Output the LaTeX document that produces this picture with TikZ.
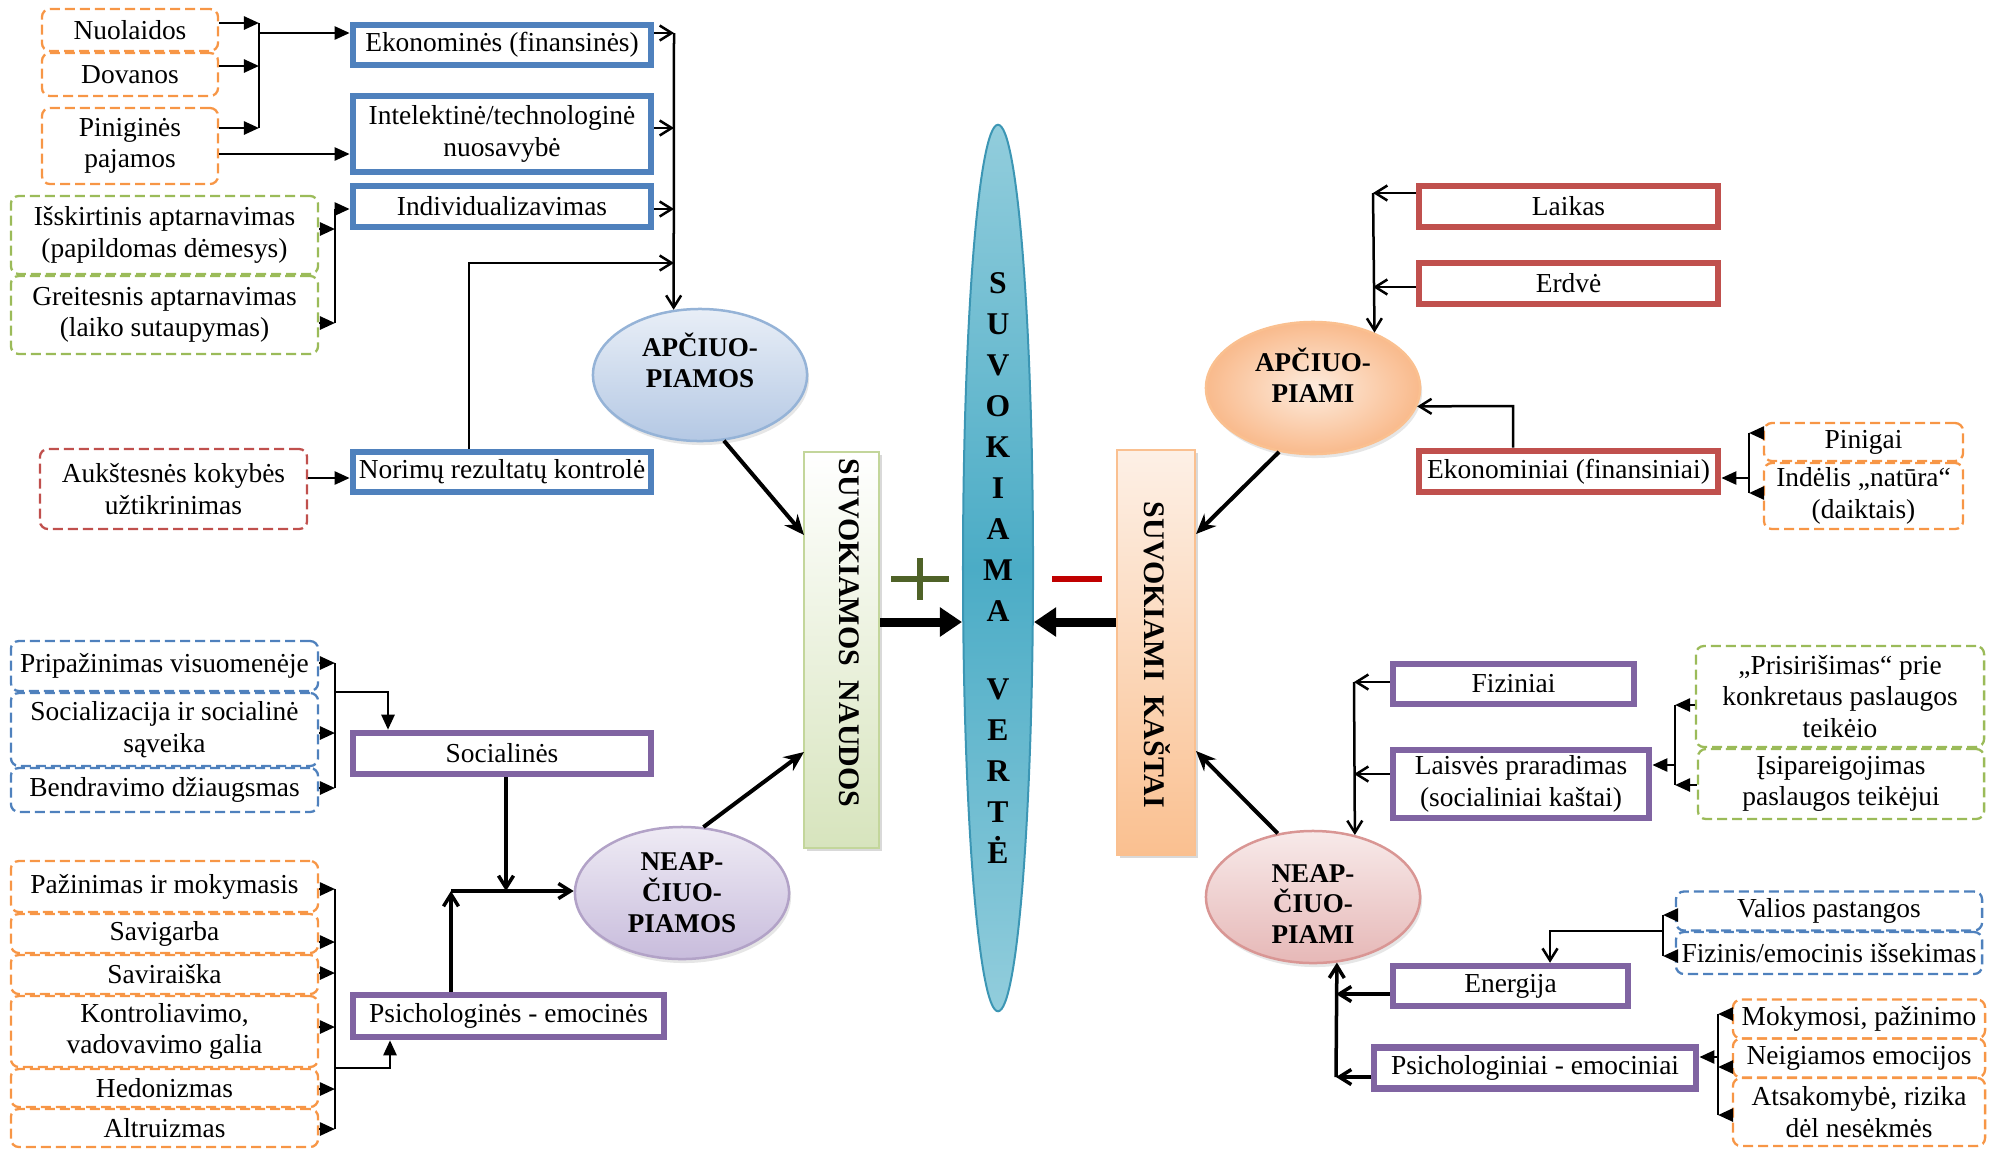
\documentclass[tikz,border=0pt]{standalone}
\usepackage{fontspec}
\setmainfont{Liberation Serif}
\usepackage{tikz}
\usetikzlibrary{arrows.meta,shapes.geometric,shadows}

\begin{document}
\begin{tikzpicture}[x=0.01cm, y=-0.01cm,
    conn/.style={line width=0.025cm},
    tria/.style={conn, -{Triangle[length=0.15cm,width=0.13cm]}},
    barb/.style={conn, -{Straight Barb[length=0.12cm,width=0.15cm]}},
    diag/.style={line width=0.04cm, -{Stealth[length=0.2cm,width=0.17cm]}},
    bigarr/.style={line width=0.09cm, -{Triangle[length=0.22cm,width=0.28cm]}},
    txt/.style={font=\fontsize{7.8}{9}\selectfont, align=center, inner sep=0pt},
    thickbox/.style={txt, draw=#1, line width=0.065cm, fill=white},
    dbox/.style={txt, draw=#1, line width=0.023cm, dash pattern=on 0.1cm off 0.05cm, rounded corners=0.08cm},
    oval/.style={ellipse, minimum width=2.14cm, minimum height=1.32cm, inner sep=0pt,
        line width=0.025cm,
        drop shadow={opacity=0.2, shadow xshift=0.02cm, shadow yshift=-0.04cm}},
    ovaltext/.style={align=center, inner sep=0pt, font=\fontsize{7.7}{8.8}\selectfont\bfseries},
    vbox/.style={inner sep=0pt, line width=0.02cm,
        drop shadow={opacity=0.3, shadow xshift=0.03cm, shadow yshift=-0.03cm}},
    vtext/.style={rotate=-90, font=\fontsize{8.5}{10}\selectfont\bfseries, inner sep=0pt}
]
    % Spalvos
    \definecolor{blueB}{RGB}{79,129,189}
    \definecolor{redB}{RGB}{192,80,77}
    \definecolor{purpB}{RGB}{128,100,162}
    \definecolor{orngD}{RGB}{247,150,70}
    \definecolor{grnD}{RGB}{155,187,89}
    \definecolor{plusG}{RGB}{79,98,40}
    \definecolor{minusR}{RGB}{192,0,0}
    \definecolor{spL}{RGB}{146,205,220}
    \definecolor{spD}{RGB}{75,172,198}
    \definecolor{spB}{RGB}{60,150,180}
    \definecolor{nauF}{RGB}{215,228,189}
    \definecolor{nauB}{RGB}{195,214,155}
    \definecolor{kasF}{RGB}{250,192,144}
    \definecolor{kasT}{RGB}{253,240,230}
    \definecolor{apF}{RGB}{180,200,228}
    \definecolor{apB}{RGB}{149,179,215}
    \definecolor{neF}{RGB}{200,188,220}
    \definecolor{neB}{RGB}{178,162,199}
    \definecolor{akF}{RGB}{249,186,140}
    \definecolor{akI}{RGB}{253,236,222}
    \definecolor{nkF}{RGB}{230,184,183}
    \definecolor{nkB}{RGB}{217,150,148}

    \useasboundingbox (0,0) rectangle (1995,1151);

    % Apčiuopiamos naudos
    \node[dbox=orngD, minimum width=1.76cm, minimum height=0.42cm] (nuol) at (130,30) {Nuolaidos};
    \node[dbox=orngD, minimum width=1.76cm, minimum height=0.43cm] (dovan) at (130,74.5) {Dovanos};
    \node[dbox=orngD, minimum width=1.76cm, minimum height=0.76cm] (pinig) at (130,146) {Piniginės\\pajamos};
    \node[dbox=grnD, minimum width=3.07cm, minimum height=0.78cm] (isskir) at (164.5,235) {Išskirtinis aptarnavimas\\(papildomas dėmesys)};
    \node[dbox=grnD, minimum width=3.07cm, minimum height=0.78cm] (greit) at (164.5,315) {Greitesnis aptarnavimas\\(laiko sutaupymas)};
    \node[dbox=redB, minimum width=2.67cm, minimum height=0.80cm] (aukst) at (173.5,489) {Aukštesnės kokybės\\užtikrinimas};

    \node[thickbox=blueB, minimum width=2.98cm, minimum height=0.40cm] (ekon) at (502,45) {Ekonominės (finansinės)};
    \node[thickbox=blueB, minimum width=2.98cm, minimum height=0.76cm] (intel) at (502,134) {Intelektinė/technologinė\\nuosavybė};
    \node[thickbox=blueB, minimum width=2.98cm, minimum height=0.41cm] (indiv) at (502,206.5) {Individualizavimas};
    \node[thickbox=blueB, minimum width=2.98cm, minimum height=0.40cm] (norim) at (502,472) {Norimų rezultatų kontrolė};

    \node[oval, draw=apB, top color=white!70!apF, bottom color=apF] (apcP) at (700,375) {};
    \node[ovaltext] (apcPT) at ([yshift=0.15cm]apcP.center) {APČIUO-\\PIAMOS};

    % Neapčiuopiamos naudos
    \node[dbox=blueB, minimum width=3.07cm, minimum height=0.50cm] (pripaz) at (164.5,666) {Pripažinimas visuomenėje};
    \node[dbox=blueB, minimum width=3.07cm, minimum height=0.73cm] (sociali) at (164.5,729.5) {Socializacija ir socialinė\\sąveika};
    \node[dbox=blueB, minimum width=3.07cm, minimum height=0.44cm] (bendr) at (164.5,790) {Bendravimo džiaugsmas};
    \node[dbox=orngD, minimum width=3.07cm, minimum height=0.51cm] (pazin) at (164.5,886.5) {Pažinimas ir mokymasis};
    \node[dbox=orngD, minimum width=3.07cm, minimum height=0.39cm] (savig) at (164.5,933.5) {Savigarba};
    \node[dbox=orngD, minimum width=3.07cm, minimum height=0.39cm] (savir) at (164.5,974.5) {Saviraiška};
    \node[dbox=orngD, minimum width=3.07cm, minimum height=0.71cm] (kontr) at (164.5,1031.5) {Kontroliavimo,\\vadovavimo galia};
    \node[dbox=orngD, minimum width=3.07cm, minimum height=0.38cm] (hedon) at (164.5,1088) {Hedonizmas};
    \node[dbox=orngD, minimum width=3.07cm, minimum height=0.38cm] (altru) at (164.5,1128) {Altruizmas};

    \node[thickbox=purpB, minimum width=2.98cm, minimum height=0.41cm] (social) at (502,753.5) {Socialinės};
    \node[thickbox=purpB, minimum width=3.11cm, minimum height=0.42cm] (psich) at (508.5,1016) {Psichologinės - emocinės};

    \node[oval, draw=neB, top color=white!70!neF, bottom color=neF] (neapP) at (682,893) {};
    \node[ovaltext] (neapPT) at (neapP.center) {NEAP-\\ČIUO-\\PIAMOS};

    % Suvokiama vertė
    \node[vbox, draw=nauB, top color=white, bottom color=nauF, minimum width=0.75cm, minimum height=3.96cm] (naudos) at (841.5,650) {};
    \node[vtext] (naudosT) at (849,633) {SUVOKIAMOS~~NAUDOS};
    \node[vbox, draw=kasF, top color=kasT, bottom color=kasF, minimum width=0.78cm, minimum height=4.05cm] (kastai) at (1156,652.5) {};
    \node[vtext] (kastaiT) at (1157,655) {SUVOKIAMI~~KAŠTAI};
    \node[ellipse, minimum width=0.70cm, minimum height=8.86cm, inner sep=0pt, draw=spB, line width=0.02cm,
        top color=spL, bottom color=spL, middle color=spD, align=center,
        font=\fontsize{9}{11.66}\selectfont\bfseries] (verte) at (998,568)
        {S\\U\\V\\O\\K\\I\\A\\M\\A\\[0.37cm]V\\E\\R\\T\\Ė};

    \draw[plusG, line width=0.06cm] (891,579) -- (949,579) (920,558) -- (920,600);
    \draw[minusR, line width=0.06cm] (1052,579) -- (1102,579);

    % Apčiuopiami kaštai
    \node[thickbox=redB, minimum width=2.99cm, minimum height=0.41cm] (laikas) at (1568.5,206.5) {Laikas};
    \node[thickbox=redB, minimum width=2.99cm, minimum height=0.41cm] (erdve) at (1568.5,283.5) {Erdvė};
    \node[thickbox=redB, minimum width=2.99cm, minimum height=0.41cm] (ekonf) at (1568.5,471.5) {Ekonominiai (finansiniai)};
    \node[dbox=orngD, minimum width=1.99cm, minimum height=0.38cm] (pinigai) at (1863.5,442) {Pinigai};
    \node[dbox=orngD, minimum width=1.99cm, minimum height=0.66cm] (indelis) at (1863.5,496) {Indėlis „natūra“\\(daiktais)};

    \node[oval, inner color=akI, outer color=akF, draw=kasF] (apcK) at (1313,388) {};
    \node[ovaltext] (apcKT) at ([yshift=0.13cm]apcK.center) {APČIUO-\\PIAMI};

    % Neapčiuopiami kaštai
    \node[thickbox=purpB, minimum width=2.41cm, minimum height=0.40cm] (fizin) at (1513.5,684) {Fiziniai};
    \node[thickbox=purpB, minimum width=2.56cm, minimum height=0.68cm] (laisv) at (1521,784) {Laisvės praradimas\\(socialiniai kaštai)};
    \node[thickbox=purpB, minimum width=2.35cm, minimum height=0.40cm] (energ) at (1510.5,986) {Energija};
    \node[thickbox=purpB, minimum width=3.22cm, minimum height=0.41cm] (psichi) at (1535,1068) {Psichologiniai - emociniai};
    \node[dbox=grnD, minimum width=2.88cm, minimum height=1.01cm] (prisir) at (1840,696.5) {„Prisirišimas“ prie\\konkretaus paslaugos\\teikėio};
    \node[dbox=grnD, minimum width=2.86cm, minimum height=0.70cm] (isipar) at (1841,784) {Įsipareigojimas\\paslaugos teikėjui};
    \node[dbox=blueB, minimum width=3.06cm, minimum height=0.39cm] (valios) at (1829,911) {Valios pastangos};
    \node[dbox=blueB, minimum width=3.06cm, minimum height=0.42cm] (fizem) at (1829,953) {Fizinis/emocinis išsekimas};
    \node[dbox=orngD, minimum width=2.52cm, minimum height=0.39cm] (mokym) at (1859,1019) {Mokymosi, pažinimo};
    \node[dbox=orngD, minimum width=2.52cm, minimum height=0.39cm] (neigi) at (1859,1058) {Neigiamos emocijos};
    \node[dbox=orngD, minimum width=2.52cm, minimum height=0.68cm] (atsak) at (1859,1112) {Atsakomybė, rizika\\dėl nesėkmės};

    \node[oval, draw=nkB, top color=white!70!nkF, bottom color=nkF] (neapK) at (1313,897) {};
    \node[ovaltext] (neapKT) at ([yshift=-0.07cm]neapK.center) {NEAP-\\ČIUO-\\PIAMI};

    % Jungtys: apčiuopiamos naudos
    \coordinate (bA1) at (259,23);
    \coordinate (bA2) at (259,66);
    \coordinate (bA3) at (259,128);
    \coordinate (bA0) at (259,33);
    \coordinate (cInt) at (300,154);
    \draw[tria] (nuol.east |- bA1) -- (bA1);
    \draw[tria] (dovan.east |- bA2) -- (bA2);
    \draw[tria] (pinig.east |- bA3) -- (bA3);
    \draw[conn] (bA1) -- (bA3);
    \draw[tria] (bA0) -- (ekon.west |- bA0);
    \draw[tria] (pinig.east |- cInt) -- (intel.west |- cInt);

    \coordinate (bB0) at (335,209);
    \coordinate (bB1) at (335,229);
    \coordinate (bB2) at (335,323);
    \draw[tria] (isskir.east |- bB1) -- (bB1);
    \draw[tria] (greit.east |- bB2) -- (bB2);
    \draw[conn] (bB0) -- (bB2);
    \draw[tria] (bB0) -- (indiv.west |- bB0);

    \coordinate (bC1) at (674,33);
    \coordinate (bC2) at (674,128);
    \coordinate (bC3) at (674,209);
    \coordinate (bC4) at (674,263);
    \coordinate (cNor) at (469,263);
    \coordinate (cAu) at (330,478);
    \draw[barb] (ekon.east |- bC1) -- (bC1);
    \draw[barb] (intel.east |- bC2) -- (bC2);
    \draw[barb] (indiv.east |- bC3) -- (bC3);
    \draw[barb] (norim.north -| cNor) -- (cNor) -- (bC4);
    \draw[barb] (bC1) -- (apcP.112);
    \draw[tria] (aukst.east |- cAu) -- (norim.west |- cAu);

    % Jungtys: neapčiuopiamos naudos
    \coordinate (bS1) at (335,663);
    \coordinate (bS2) at (335,733);
    \coordinate (bS3) at (335,788);
    \coordinate (bS0) at (335,692);
    \coordinate (bS4) at (388,692);
    \draw[tria] (pripaz.east |- bS1) -- (bS1);
    \draw[tria] (sociali.east |- bS2) -- (bS2);
    \draw[tria] (bendr.east |- bS3) -- (bS3);
    \draw[conn] (bS1) -- (bS3);
    \draw[tria] (bS0) -- (bS4) -- (social.north -| bS4);

    \coordinate (bP1) at (335,889);
    \coordinate (bP2) at (335,942);
    \coordinate (bP3) at (335,973);
    \coordinate (bP4) at (335,1027);
    \coordinate (bP5) at (335,1089);
    \coordinate (bP6) at (335,1129);
    \coordinate (bP0) at (335,1068);
    \coordinate (bP7) at (390,1068);
    \draw[tria] (pazin.east |- bP1) -- (bP1);
    \draw[tria] (savig.east |- bP2) -- (bP2);
    \draw[tria] (savir.east |- bP3) -- (bP3);
    \draw[tria] (kontr.east |- bP4) -- (bP4);
    \draw[tria] (hedon.east |- bP5) -- (bP5);
    \draw[tria] (altru.east |- bP6) -- (bP6);
    \draw[conn] (bP1) -- (bP6);
    \draw[tria] (bP0) -- (bP7) -- (psich.south -| bP7);

    \coordinate (nJ) at (451,891);
    \coordinate (nK) at (506,891);
    \draw[barb, line width=0.035cm] (social.south -| nK) -- (nK);
    \draw[barb, line width=0.035cm] (psich.north -| nJ) -- (nJ);
    \draw[barb, line width=0.035cm] (nJ) -- (nJ -| neapP.west);

    % Jungtys: į suvokiamą vertę
    \coordinate (nIn1) at (804,535);
    \coordinate (nIn2) at (804,752);
    \coordinate (kIn1) at (1196,534);
    \coordinate (kIn2) at (1196,751);
    \coordinate (vIn) at (998,622);
    \draw[diag] (apcP.-70) -- (nIn1);
    \draw[diag] (neapP.72) -- (nIn2);
    \draw[diag] (apcK.-118) -- (kIn1);
    \draw[diag] (neapK.119) -- (kIn2);
    \draw[bigarr] (naudos.east |- vIn) -- (verte.west |- vIn);
    \draw[bigarr] (kastai.west |- vIn) -- (verte.east |- vIn);

    % Jungtys: apčiuopiami kaštai
    \coordinate (kA1) at (1373,193);
    \coordinate (kA2) at (1373,287);
    \coordinate (kE) at (1513,406);
    \draw[barb] (laikas.west |- kA1) -- (kA1);
    \draw[barb] (erdve.west |- kA2) -- (kA2);
    \draw[barb] (kA1) -- (apcK.42);
    \draw[barb] (ekonf.north -| kE) -- (kE) -- (apcK.-10);

    \coordinate (kP1) at (1749,433);
    \coordinate (kP2) at (1749,493);
    \coordinate (kP0) at (1749,478);
    \draw[tria] (pinigai.west |- kP1) -- (kP1);
    \draw[tria] (indelis.west |- kP2) -- (kP2);
    \draw[conn] (kP1) -- (kP2);
    \draw[tria] (kP0) -- (ekonf.east |- kP0);

    % Jungtys: neapčiuopiami kaštai
    \coordinate (kF1) at (1354,682);
    \coordinate (kF2) at (1354,774);
    \draw[barb] (fizin.west |- kF1) -- (kF1);
    \draw[barb] (laisv.west |- kF2) -- (kF2);
    \draw[barb] (kF1) -- (neapK.56);

    \coordinate (kG1) at (1675,705);
    \coordinate (kG2) at (1675,785);
    \coordinate (kG0) at (1675,765);
    \draw[tria] (prisir.west |- kG1) -- (kG1);
    \draw[tria] (isipar.west |- kG2) -- (kG2);
    \draw[conn] (kG1) -- (kG2);
    \draw[tria] (kG0) -- (laisv.east |- kG0);

    \coordinate (kV1) at (1663,915);
    \coordinate (kV2) at (1663,956);
    \coordinate (kV0) at (1663,931);
    \coordinate (kV3) at (1550,931);
    \draw[tria] (valios.west |- kV1) -- (kV1);
    \draw[tria] (fizem.west |- kV2) -- (kV2);
    \draw[conn] (kV1) -- (kV2);
    \draw[barb] (kV0) -- (kV3) -- (energ.north -| kV3);

    \coordinate (kH1) at (1336,994);
    \coordinate (kH2) at (1336,1077);
    \draw[barb, line width=0.035cm] (energ.west |- kH1) -- (kH1);
    \draw[barb, line width=0.035cm] (psichi.west |- kH2) -- (kH2);
    \draw[barb, line width=0.035cm] (kH2) -- (neapK.-70);

    \coordinate (kM1) at (1718,1014);
    \coordinate (kM2) at (1718,1067);
    \coordinate (kM3) at (1718,1115);
    \coordinate (kM0) at (1718,1057);
    \draw[tria] (mokym.west |- kM1) -- (kM1);
    \draw[tria] (neigi.west |- kM2) -- (kM2);
    \draw[tria] (atsak.west |- kM3) -- (kM3);
    \draw[conn] (kM1) -- (kM3);
    \draw[tria] (kM0) -- (psichi.east |- kM0);
\end{tikzpicture}
\end{document}
